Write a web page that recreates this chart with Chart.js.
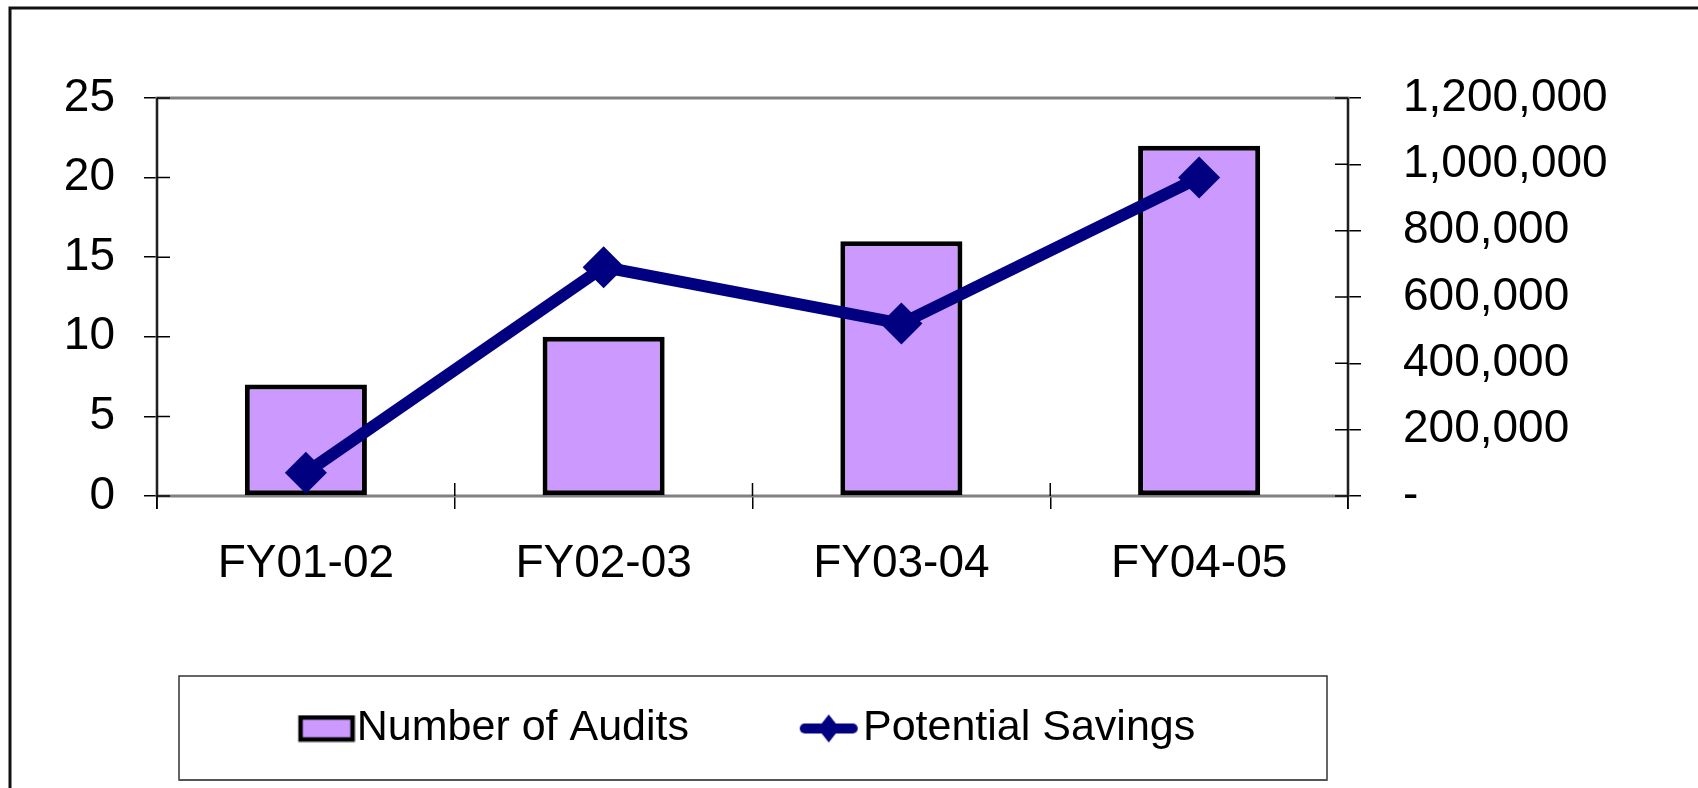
<!DOCTYPE html>
<html>
<head>
<meta charset="utf-8">
<script src="https://cdn.jsdelivr.net/npm/chart.js@4.4.0/dist/chart.umd.min.js"></script>
<style>
  html, body { margin: 0; padding: 0; background: #fff; }
  #wrap { width: 1698px; height: 788px; position: relative; }
</style>
</head>
<body>
<div id="wrap"><canvas id="auditChart"></canvas></div>
<script>
// dados
const categorias = ["FY01-02", "FY02-03", "FY03-04", "FY04-05"];
const numeroAuditorias = [7, 10, 16, 22];
const economiaPotencial = [70000, 690000, 520000, 960000];
const ticksEsquerda = [0, 5, 10, 15, 20, 25];
const ticksDireita = [0, 200000, 400000, 600000, 800000, 1000000, 1200000];

const FONTE = "'Liberation Sans', Arial, sans-serif";
const ROXO = "#CC99FF";
const AZUL = "#000080";

Chart.defaults.font.family = FONTE;
Chart.defaults.color = "#000";

// amostras da legenda desenhadas num canvas
function amostraBarra() {
  const c = document.createElement("canvas");
  c.width = 66; c.height = 28;
  const g = c.getContext("2d");
  g.fillStyle = ROXO;
  g.fillRect(11, 3, 52, 22);
  g.strokeStyle = "#000";
  g.lineWidth = 4.5;
  g.strokeRect(11, 3, 52, 22);
  return c;
}

function amostraLinha() {
  const c = document.createElement("canvas");
  c.width = 60; c.height = 30;
  const g = c.getContext("2d");
  g.strokeStyle = AZUL;
  g.lineWidth = 10;
  g.lineCap = "round";
  g.beginPath();
  g.moveTo(6, 15);
  g.lineTo(54, 15);
  g.stroke();
  g.fillStyle = AZUL;
  g.beginPath();
  g.moveTo(30, 1);
  g.lineTo(41, 15);
  g.lineTo(30, 29);
  g.lineTo(19, 15);
  g.closePath();
  g.fill();
  return c;
}

const amostras = [amostraBarra(), amostraLinha()];

// moldura externa, borda da área de plotagem, ticks cruzando os eixos e caixa da legenda
const molduraPlugin = {
  id: "moldura",
  beforeDraw(chart) {
    const ctx = chart.ctx;
    ctx.save();
    ctx.fillStyle = "#fff";
    ctx.fillRect(0, 0, chart.width, chart.height);
    ctx.strokeStyle = "#111";
    ctx.lineWidth = 3;
    ctx.beginPath();
    ctx.moveTo(10, chart.height);
    ctx.lineTo(10, 8);
    ctx.lineTo(chart.width, 8);
    ctx.stroke();
    ctx.restore();
  },
  beforeDatasetsDraw(chart) {
    const ctx = chart.ctx;
    const a = chart.chartArea;
    ctx.save();
    ctx.strokeStyle = "#808080";
    ctx.lineWidth = 3;
    ctx.strokeRect(a.left, a.top, a.right - a.left, a.bottom - a.top);
    ctx.restore();
  },
  afterDraw(chart) {
    const ctx = chart.ctx;
    const a = chart.chartArea;
    const len = 13;
    ctx.save();
    ctx.strokeStyle = "#000";
    ctx.lineWidth = 1.5;
    ctx.beginPath();
    ctx.moveTo(a.left, a.top);
    ctx.lineTo(a.left, a.bottom + len);
    ctx.moveTo(a.right, a.top);
    ctx.lineTo(a.right, a.bottom + len);
    const y = chart.scales.y, y1 = chart.scales.y1, x = chart.scales.x;
    y.ticks.forEach((t, i) => {
      const p = y.getPixelForTick(i);
      ctx.moveTo(a.left, p); ctx.lineTo(a.left + len, p);
    });
    y1.ticks.forEach((t, i) => {
      const p = y1.getPixelForTick(i);
      ctx.moveTo(a.right - len, p); ctx.lineTo(a.right, p);
    });
    for (let i = 0; i <= categorias.length; i++) {
      const p = x.getPixelForValue(i - 0.5);
      ctx.moveTo(p, a.bottom - len); ctx.lineTo(p, a.bottom);
    }
    ctx.stroke();

    // caixa da legenda
    const lg = chart.legend;
    if (lg && lg.legendHitBoxes.length) {
      const hb = lg.legendHitBoxes;
      const topo = hb[0].top - 31;
      const base = hb[0].top + 73;
      const esq = a.left + 22;
      const dir = a.right - 21;
      ctx.strokeStyle = "#333";
      ctx.lineWidth = 1.5;
      ctx.strokeRect(esq, topo, dir - esq, base - topo);
      ctx.strokeStyle = "#555";
      ctx.lineWidth = 2;
      ctx.beginPath();
      ctx.moveTo(esq, base); ctx.lineTo(dir, base);
      ctx.stroke();
    }
    ctx.restore();
  }
};

const datasets = [
  {
    type: "bar",
    label: "Number of Audits",
    data: numeroAuditorias,
    backgroundColor: ROXO,
    borderColor: "#000",
    borderWidth: 5,
    borderSkipped: false,
    categoryPercentage: 1,
    barPercentage: 0.41,
    yAxisID: "y",
    order: 2,
  },
  {
    type: "line",
    label: "Potential Savings",
    data: economiaPotencial,
    borderColor: AZUL,
    borderWidth: 12,
    pointStyle: "rectRot",
    pointRadius: 21,
    pointBackgroundColor: AZUL,
    pointBorderWidth: 0,
    tension: 0,
    yAxisID: "y1",
    order: 1,
  },
];

const config = {
  animation: false,
  responsive: true,
  maintainAspectRatio: false,
  layout: { padding: { top: 98, left: 0, right: 0, bottom: 28 } },
  scales: {
    x: {
      offset: true,
      grid: { offset: true, drawOnChartArea: false, drawTicks: true, tickLength: 13, color: "#000", lineWidth: 1.5 },
      border: { display: true, color: "#555", width: 2 },
      ticks: { font: { size: 46 }, padding: 28, color: "#000" },
      afterFit(scale) { scale.height = 84; },
    },
    y: {
      position: "left",
      min: 0,
      max: 25,
      afterBuildTicks(scale) { scale.ticks = ticksEsquerda.map(v => ({ value: v })); },
      grid: { drawOnChartArea: false, drawTicks: true, tickLength: 13, color: "#000", lineWidth: 1.5 },
      border: { display: true, color: "#000", width: 2 },
      ticks: { font: { size: 46 }, padding: 29, color: "#000" },
      afterFit(scale) { scale.width = 157; },
    },
    y1: {
      position: "right",
      min: 0,
      max: 1200000,
      afterBuildTicks(scale) { scale.ticks = ticksDireita.map(v => ({ value: v })); },
      grid: { drawOnChartArea: false, drawTicks: true, tickLength: 13, color: "#000", lineWidth: 1.5 },
      border: { display: true, color: "#000", width: 2 },
      ticks: {
        font: { size: 46 },
        padding: 42,
        color: "#000",
        callback: function (value) {
          return value === 0 ? "-" : value.toLocaleString("en-US");
        },
      },
      afterFit(scale) { scale.width = 350; },
    },
  },
  plugins: {
    tooltip: { enabled: false },
    legend: {
      display: true,
      position: "bottom",
      fullSize: false,
      labels: {
        usePointStyle: true,
        pointStyleWidth: 25.5,
        padding: 127,
        color: "#000",
        font: { size: 43 },
        sort: (a, b) => a.datasetIndex - b.datasetIndex,
        generateLabels(chart) {
          const itens = Chart.defaults.plugins.legend.labels.generateLabels(chart);
          itens.forEach(it => { it.pointStyle = amostras[it.datasetIndex]; });
          return itens;
        },
      },
    },
  },
};

const ctx = document.getElementById("auditChart").getContext("2d");
const grafico = new Chart(ctx, {
  plugins: [molduraPlugin],
  data: { labels: categorias, datasets },
  options: config,
});
</script>
</body>
</html>
